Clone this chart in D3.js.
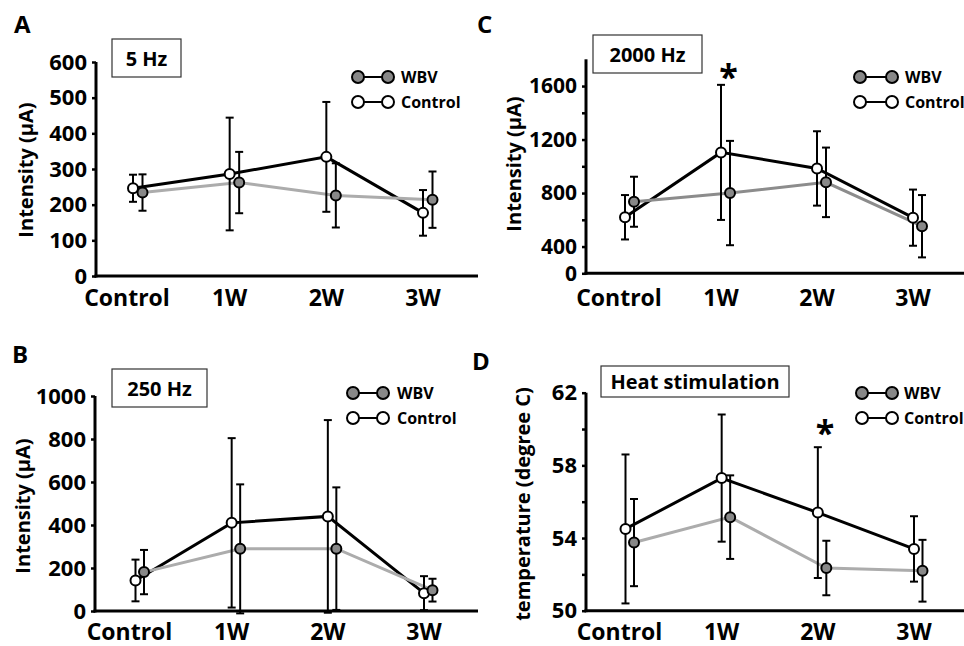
<!DOCTYPE html>
<html>
<head>
<meta charset="utf-8">
<script src="https://cdn.jsdelivr.net/npm/d3@7"></script>
<style>
  html, body { margin: 0; padding: 0; background: #fff; }
  svg { display: block; font-family: "Open Sans", "Liberation Sans", sans-serif; font-weight: 700; }
</style>
</head>
<body>
<svg id="chart" width="964" height="646"></svg>
<script>
// ---------- data ----------
const categories = ["Control", "1W", "2W", "3W"];
const seriesNames = ["WBV", "Control"];

// Panel A: 5 Hz
const aWbvMean  = [234, 262, 226, 214];
const aWbvSd    = [51, 86, 90, 79];
const aCtrlMean = [246, 286, 334, 177];
const aCtrlSd   = [38, 158, 154, 64];
const aTicks      = [0, 100, 200, 300, 400, 500, 600];
const aTickLabels = ["0", "100", "200", "300", "400", "500", "600"];

// Panel B: 250 Hz
const bWbvMean  = [181, 289, 290, 97];
const bWbvSd    = [103, 300, 285, 53];
const bCtrlMean = [142, 410, 440, 83];
const bCtrlSd   = [97, 394, 448, 79];
const bTicks      = [0, 200, 400, 600, 800, 1000];
const bTickLabels = ["0", "200", "400", "600", "800", "1000"];

// Panel C: 2000 Hz (axis bottom labelled 0)
const cWbvMean  = [735, 800, 880, 552];
const cWbvSd    = [187, 390, 260, 233];
const cCtrlMean = [619, 1104, 984, 616];
const cCtrlSd   = [166, 505, 278, 210];
const cTicks      = [200, 400, 600, 800, 1000, 1200, 1400, 1600];
const cTickLabels = ["0", "400", "", "800", "", "1200", "", "1600"];

// Panel D: Heat stimulation
const dWbvMean  = [53.75, 55.15, 52.35, 52.2];
const dWbvSd    = [2.4, 2.3, 1.5, 1.7];
const dCtrlMean = [54.5, 57.3, 55.4, 53.4];
const dCtrlSd   = [4.1, 3.5, 3.6, 1.8];
const dTicks      = [50, 52, 54, 56, 58, 60, 62];
const dTickLabels = ["50", "", "54", "", "58", "", "62"];

const panelLetters = ["A", "B", "C", "D"];
const panelTitles  = ["5 Hz", "250 Hz", "2000 Hz", "Heat stimulation"];
const yTitles      = ["Intensity (\u00b5A)", "Intensity (\u00b5A)", "Intensity (\u00b5A)", "temperature (degree C)"];
const starCategory = [null, null, "1W", "2W"];

// ---------- layout ----------
const panels = [
  { letter: panelLetters[0], title: panelTitles[0], yTitle: yTitles[0],
    wbv: aWbvMean, wbvSd: aWbvSd, ctl: aCtrlMean, ctlSd: aCtrlSd, ticks: aTicks, tickLabels: aTickLabels,
    domain: [0, 600], axisX: 96, axisRight: 478, y0: 276, y1: 62,
    xr: [133, 423], off: 9.5, labelY: 306, tickFont: 22,
    letterPos: [14, 33], box: [112, 39, 69, 38], leg: [358, 388, 401, 77],
    yTitlePos: [25, 170], grayLine: "#acacac", star: starCategory[0], starY: 0 },
  { letter: panelLetters[1], title: panelTitles[1], yTitle: yTitles[1],
    wbv: bWbvMean, wbvSd: bWbvSd, ctl: bCtrlMean, ctlSd: bCtrlSd, ticks: bTicks, tickLabels: bTickLabels,
    domain: [0, 1000], axisX: 95, axisRight: 478, y0: 611, y1: 396,
    xr: [135.5, 424], off: 8.5, labelY: 640, tickFont: 22,
    letterPos: [12, 363], box: [112, 369, 95, 38], leg: [353, 383, 397, 393],
    yTitlePos: [22, 506], grayLine: "#acacac", star: starCategory[1], starY: 0 },
  { letter: panelLetters[2], title: panelTitles[2], yTitle: yTitles[2],
    wbv: cWbvMean, wbvSd: cWbvSd, ctl: cCtrlMean, ctlSd: cCtrlSd, ticks: cTicks, tickLabels: cTickLabels,
    domain: [200, 1800], axisX: 586, axisRight: 964, y0: 273.3, y1: 59.3,
    xr: [625, 913], off: 9, labelY: 306, tickFont: 21,
    letterPos: [477, 33], box: [593, 35, 109, 38], leg: [860, 892, 905, 77],
    yTitlePos: [513, 164], grayLine: "#8c8c8c", star: starCategory[2], starY: 66 },
  { letter: panelLetters[3], title: panelTitles[3], yTitle: yTitles[3],
    wbv: dWbvMean, wbvSd: dWbvSd, ctl: dCtrlMean, ctlSd: dCtrlSd, ticks: dTicks, tickLabels: dTickLabels,
    domain: [50, 62], axisX: 586, axisRight: 964, y0: 610.7, y1: 392.7,
    xr: [625.5, 914], off: 8.5, labelY: 640, tickFont: 22,
    letterPos: [472, 370], box: [601, 366, 188, 31], leg: [862, 892, 904, 393],
    yTitlePos: [522, 504], grayLine: "#acacac", star: starCategory[3], starY: 422 }
];

const svg = d3.select("#chart");
const wbvFill = "#888888";

panels.forEach(p => {
  const g = svg.append("g");
  const x = d3.scalePoint().domain(categories).range(p.xr);
  const y = d3.scaleLinear().domain(p.domain).range([p.y0, p.y1]);

  // y axis
  const yAxis = d3.axisLeft(y).tickValues(p.ticks)
    .tickFormat((d, i) => p.tickLabels[i]).tickSize(4).tickSizeOuter(0).tickPadding(5);
  const ya = g.append("g").attr("transform", `translate(${p.axisX},0)`).call(yAxis);
  ya.select(".domain").attr("stroke", "#000").attr("stroke-width", 3)
    .attr("d", `M0,${p.y0 + 1.5}V${p.y1}`);
  ya.selectAll(".tick line").attr("stroke", "#000").attr("stroke-width", 2.5);
  ya.selectAll(".tick text").attr("font-size", p.tickFont).attr("font-weight", 700)
    .attr("fill", "#000").attr("font-family", "Open Sans");

  // x axis line
  g.append("line").attr("x1", p.axisX - 1.5).attr("x2", p.axisRight)
    .attr("y1", p.y0).attr("y2", p.y0).attr("stroke", "#000").attr("stroke-width", 3);
  // x labels
  g.selectAll(".xl").data(categories).enter().append("text")
    .attr("x", d => x(d) + (d === "Control" ? -6 : 0))
    .attr("y", p.labelY).attr("text-anchor", "middle")
    .attr("font-size", 23).attr("fill", "#000").text(d => d);

  // y title
  g.append("text").attr("transform", `translate(${p.yTitlePos[0]},${p.yTitlePos[1]}) rotate(-90)`)
    .attr("text-anchor", "middle").attr("dominant-baseline", "central")
    .attr("font-size", 20).attr("fill", "#000").text(p.yTitle);

  // panel letter
  g.append("text").attr("x", p.letterPos[0]).attr("y", p.letterPos[1])
    .attr("font-size", 24).attr("fill", "#000").text(p.letter);

  // title box
  g.append("rect").attr("x", p.box[0]).attr("y", p.box[1]).attr("width", p.box[2]).attr("height", p.box[3])
    .attr("fill", "#fff").attr("stroke", "#333").attr("stroke-width", 1.2);
  g.append("text").attr("x", p.box[0] + p.box[2] / 2).attr("y", p.box[1] + p.box[3] / 2)
    .attr("text-anchor", "middle").attr("dominant-baseline", "central")
    .attr("font-size", 20).attr("fill", "#000").text(p.title);

  const wbvPts = categories.map((c, i) => ({ x: x(c) + p.off, m: p.wbv[i], sd: p.wbvSd[i] }));
  const ctlPts = categories.map((c, i) => ({ x: x(c), m: p.ctl[i], sd: p.ctlSd[i] }));
  const line = d3.line().x(d => d.x).y(d => y(d.m));

  // lines
  g.append("path").attr("d", line(ctlPts)).attr("fill", "none").attr("stroke", "#000").attr("stroke-width", 3);
  g.append("path").attr("d", line(wbvPts)).attr("fill", "none").attr("stroke", p.grayLine).attr("stroke-width", 3);

  // error bars
  const drawErr = pts => {
    pts.forEach(d => {
      const top = y(d.m + d.sd), bot = y(d.m - d.sd);
      g.append("line").attr("x1", d.x).attr("x2", d.x).attr("y1", top).attr("y2", bot)
        .attr("stroke", "#000").attr("stroke-width", 2);
      [top, bot].forEach(yy => g.append("line").attr("x1", d.x - 4).attr("x2", d.x + 4)
        .attr("y1", yy).attr("y2", yy).attr("stroke", "#000").attr("stroke-width", 2));
    });
  };
  drawErr(ctlPts);
  drawErr(wbvPts);

  // markers
  g.selectAll(".ctl").data(ctlPts).enter().append("circle")
    .attr("cx", d => d.x).attr("cy", d => y(d.m)).attr("r", 5)
    .attr("fill", "#fff").attr("stroke", "#000").attr("stroke-width", 2);
  g.selectAll(".wbv").data(wbvPts).enter().append("circle")
    .attr("cx", d => d.x).attr("cy", d => y(d.m)).attr("r", 5)
    .attr("fill", wbvFill).attr("stroke", "#000").attr("stroke-width", 2);

  // significance star
  if (p.star) {
    g.append("text").attr("x", x(p.star) + p.off / 2 + 3).attr("y", p.starY)
      .attr("text-anchor", "middle").attr("dominant-baseline", "central")
      .attr("font-size", 34).attr("dy", "0.3em").attr("fill", "#000").text("*");
  }

  // legend
  const [lx1, lx2, tx, ly] = p.leg;
  seriesNames.forEach((s, i) => {
    const yy = ly + i * 25;
    g.append("line").attr("x1", lx1).attr("x2", lx2).attr("y1", yy).attr("y2", yy)
      .attr("stroke", "#000").attr("stroke-width", 2);
    [lx1, lx2].forEach(cx => g.append("circle").attr("cx", cx).attr("cy", yy).attr("r", 6)
      .attr("fill", s === "WBV" ? wbvFill : "#fff").attr("stroke", "#000").attr("stroke-width", 2));
    g.append("text").attr("x", tx).attr("y", yy).attr("dominant-baseline", "central")
      .attr("font-size", 16).attr("fill", "#000").text(s);
  });
});
</script>
</body>
</html>
